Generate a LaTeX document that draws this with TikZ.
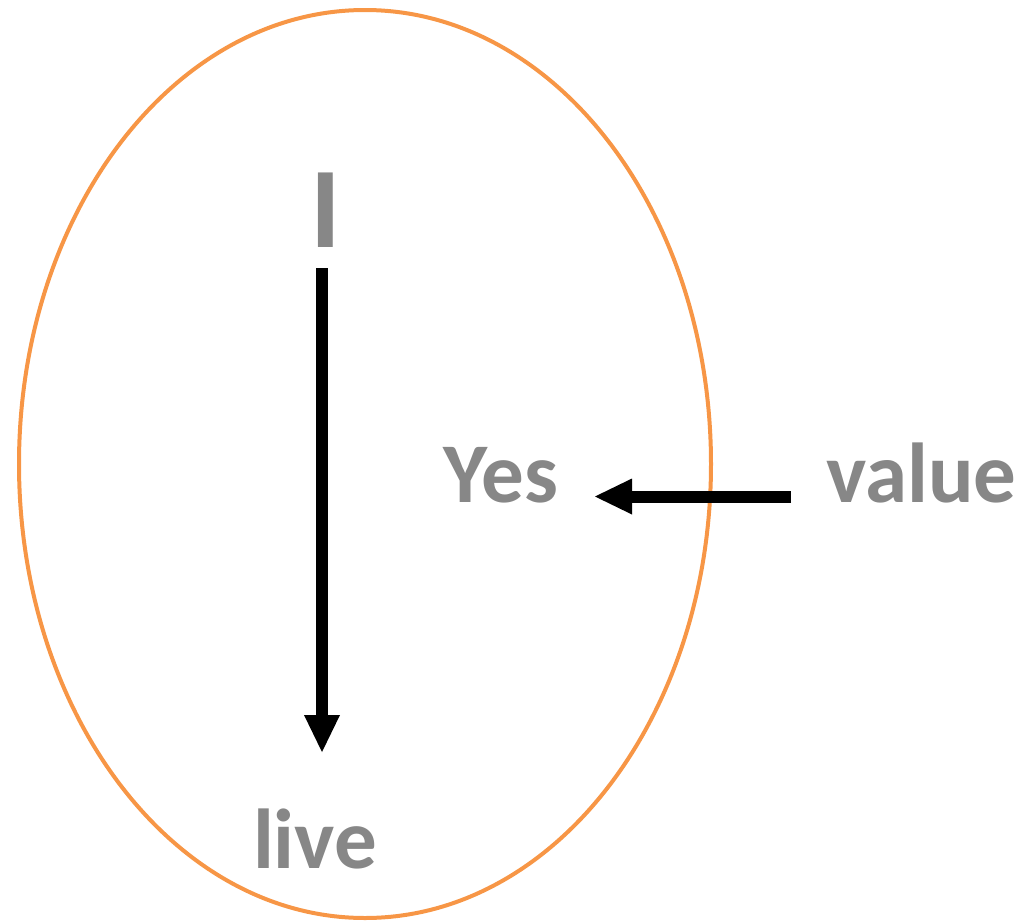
\documentclass[tikz,border=0pt]{standalone}
\usepackage{fontspec}
\setmainfont{Carlito}
\usetikzlibrary{arrows.meta}
\definecolor{ringorange}{HTML}{F79646}
\definecolor{txtgray}{HTML}{878787}
\tikzset{
  lbl/.style={inner sep=0pt, anchor=base, text=txtgray, font=\bfseries\fontsize{85pt}{90pt}\selectfont},
  bigl/.style={inner sep=0pt, anchor=base, text=txtgray, font=\bfseries\fontsize{115pt}{120pt}\selectfont},
  arr/.style={line width=12pt, -{Triangle[length=37pt,width=36pt,line width=0pt]}},
}
\begin{document}
\begin{tikzpicture}[x=1pt,y=-1pt]
\useasboundingbox (0,0) rectangle (1023,921);
\draw[ringorange, line width=4pt] (365,464) ellipse [x radius=346, y radius=454];
\node[bigl] (I) at (325.5,247) {I};
\node[lbl] (yes) at (501,502) {Yes};
\node[lbl] (value) at (921.5,502) {value};
\node[lbl] (live) at (315,868) {live};
\coordinate (a1s) at (322,268);
\coordinate (a1e) at (322,752);
\coordinate (a2s) at (791,496.5);
\coordinate (a2e) at (595,496.5);
\draw[arr] (a1s) -- (a1e);
\draw[arr] (a2s) -- (a2e);
\end{tikzpicture}
\end{document}
